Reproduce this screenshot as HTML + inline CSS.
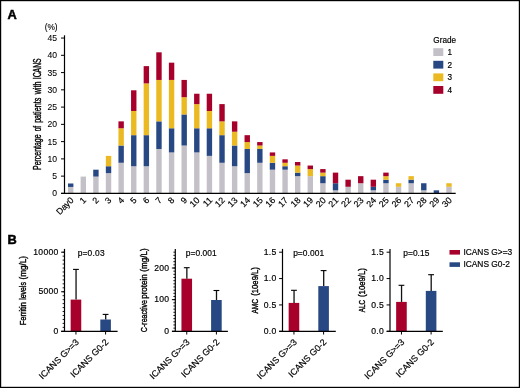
<!DOCTYPE html>
<html><head><meta charset="utf-8"><style>
html,body{margin:0;padding:0;background:#fff;}
body{width:520px;height:388px;overflow:hidden;}
svg{display:block;will-change:transform;filter:blur(0.3px);}
</style></head><body>
<svg width="520" height="388" viewBox="0 0 520 388">
<rect x="0" y="0" width="520" height="388" fill="#fff"/>
<line x1="61" y1="193.40" x2="64.5" y2="193.40" stroke="#000" stroke-width="1"/>
<text x="57" y="196.40" text-anchor="end" font-size="8.6" font-family="Liberation Sans, sans-serif" stroke="#000" stroke-width="0.08">0</text>
<line x1="61" y1="176.14" x2="64.5" y2="176.14" stroke="#000" stroke-width="1"/>
<text x="57" y="179.14" text-anchor="end" font-size="8.6" font-family="Liberation Sans, sans-serif" stroke="#000" stroke-width="0.08">5</text>
<line x1="61" y1="158.88" x2="64.5" y2="158.88" stroke="#000" stroke-width="1"/>
<text x="57" y="161.88" text-anchor="end" font-size="8.6" font-family="Liberation Sans, sans-serif" stroke="#000" stroke-width="0.08">10</text>
<line x1="61" y1="141.62" x2="64.5" y2="141.62" stroke="#000" stroke-width="1"/>
<text x="57" y="144.62" text-anchor="end" font-size="8.6" font-family="Liberation Sans, sans-serif" stroke="#000" stroke-width="0.08">15</text>
<line x1="61" y1="124.36" x2="64.5" y2="124.36" stroke="#000" stroke-width="1"/>
<text x="57" y="127.36" text-anchor="end" font-size="8.6" font-family="Liberation Sans, sans-serif" stroke="#000" stroke-width="0.08">20</text>
<line x1="61" y1="107.10" x2="64.5" y2="107.10" stroke="#000" stroke-width="1"/>
<text x="57" y="110.10" text-anchor="end" font-size="8.6" font-family="Liberation Sans, sans-serif" stroke="#000" stroke-width="0.08">25</text>
<line x1="61" y1="89.84" x2="64.5" y2="89.84" stroke="#000" stroke-width="1"/>
<text x="57" y="92.84" text-anchor="end" font-size="8.6" font-family="Liberation Sans, sans-serif" stroke="#000" stroke-width="0.08">30</text>
<line x1="61" y1="72.58" x2="64.5" y2="72.58" stroke="#000" stroke-width="1"/>
<text x="57" y="75.58" text-anchor="end" font-size="8.6" font-family="Liberation Sans, sans-serif" stroke="#000" stroke-width="0.08">35</text>
<line x1="61" y1="55.32" x2="64.5" y2="55.32" stroke="#000" stroke-width="1"/>
<text x="57" y="58.32" text-anchor="end" font-size="8.6" font-family="Liberation Sans, sans-serif" stroke="#000" stroke-width="0.08">40</text>
<line x1="61" y1="38.06" x2="64.5" y2="38.06" stroke="#000" stroke-width="1"/>
<text x="57" y="41.06" text-anchor="end" font-size="8.6" font-family="Liberation Sans, sans-serif" stroke="#000" stroke-width="0.08">45</text>
<text x="51.1" y="29.6" text-anchor="middle" font-size="8.3" font-family="Liberation Sans, sans-serif" stroke="#000" stroke-width="0.12">(%)</text>
<text transform="translate(41.3,169.96) rotate(-90)" font-size="10.4" textLength="35.57" lengthAdjust="spacingAndGlyphs" font-family="Liberation Sans, sans-serif" stroke="#000" stroke-width="0.38">Percentage</text>
<text transform="translate(41.3,131.26) rotate(-90)" font-size="10.4" textLength="5.45" lengthAdjust="spacingAndGlyphs" font-family="Liberation Sans, sans-serif" stroke="#000" stroke-width="0.38">of</text>
<text transform="translate(41.3,122.87) rotate(-90)" font-size="10.4" textLength="25.10" lengthAdjust="spacingAndGlyphs" font-family="Liberation Sans, sans-serif" stroke="#000" stroke-width="0.38">patients</text>
<text transform="translate(41.3,94.30) rotate(-90)" font-size="10.4" textLength="12.69" lengthAdjust="spacingAndGlyphs" font-family="Liberation Sans, sans-serif" stroke="#000" stroke-width="0.38">with</text>
<text transform="translate(41.3,79.21) rotate(-90)" font-size="10.4" textLength="20.83" lengthAdjust="spacingAndGlyphs" font-family="Liberation Sans, sans-serif" stroke="#000" stroke-width="0.38">ICANS</text>
<rect x="68.00" y="186.95" width="5.4" height="6.90" fill="#c3c1c7"/>
<rect x="68.00" y="183.49" width="5.4" height="3.45" fill="#284884"/>
<text transform="translate(74.20,200.8) rotate(-45)" text-anchor="end" font-size="8.8" font-family="Liberation Sans, sans-serif" stroke="#000" stroke-width="0.18">Day0</text>
<rect x="80.61" y="176.59" width="5.4" height="17.26" fill="#c3c1c7"/>
<text transform="translate(86.81,200.8) rotate(-45)" text-anchor="end" font-size="8.8" font-family="Liberation Sans, sans-serif" stroke="#000" stroke-width="0.18">1</text>
<rect x="93.22" y="176.59" width="5.4" height="17.26" fill="#c3c1c7"/>
<rect x="93.22" y="169.69" width="5.4" height="6.90" fill="#284884"/>
<text transform="translate(99.42,200.8) rotate(-45)" text-anchor="end" font-size="8.8" font-family="Liberation Sans, sans-serif" stroke="#000" stroke-width="0.18">2</text>
<rect x="105.83" y="173.14" width="5.4" height="20.71" fill="#c3c1c7"/>
<rect x="105.83" y="166.23" width="5.4" height="6.90" fill="#284884"/>
<rect x="105.83" y="155.88" width="5.4" height="10.36" fill="#ebb922"/>
<text transform="translate(112.03,200.8) rotate(-45)" text-anchor="end" font-size="8.8" font-family="Liberation Sans, sans-serif" stroke="#000" stroke-width="0.18">3</text>
<rect x="118.44" y="162.78" width="5.4" height="31.07" fill="#c3c1c7"/>
<rect x="118.44" y="145.52" width="5.4" height="17.26" fill="#284884"/>
<rect x="118.44" y="128.26" width="5.4" height="17.26" fill="#ebb922"/>
<rect x="118.44" y="121.36" width="5.4" height="6.90" fill="#a6002b"/>
<text transform="translate(124.64,200.8) rotate(-45)" text-anchor="end" font-size="8.8" font-family="Liberation Sans, sans-serif" stroke="#000" stroke-width="0.18">4</text>
<rect x="131.05" y="166.23" width="5.4" height="27.62" fill="#c3c1c7"/>
<rect x="131.05" y="135.17" width="5.4" height="31.07" fill="#284884"/>
<rect x="131.05" y="111.00" width="5.4" height="24.16" fill="#ebb922"/>
<rect x="131.05" y="90.29" width="5.4" height="20.71" fill="#a6002b"/>
<text transform="translate(137.25,200.8) rotate(-45)" text-anchor="end" font-size="8.8" font-family="Liberation Sans, sans-serif" stroke="#000" stroke-width="0.18">5</text>
<rect x="143.66" y="166.23" width="5.4" height="27.62" fill="#c3c1c7"/>
<rect x="143.66" y="135.17" width="5.4" height="31.07" fill="#284884"/>
<rect x="143.66" y="83.39" width="5.4" height="51.78" fill="#ebb922"/>
<rect x="143.66" y="66.13" width="5.4" height="17.26" fill="#a6002b"/>
<text transform="translate(149.86,200.8) rotate(-45)" text-anchor="end" font-size="8.8" font-family="Liberation Sans, sans-serif" stroke="#000" stroke-width="0.18">6</text>
<rect x="156.27" y="148.97" width="5.4" height="44.88" fill="#c3c1c7"/>
<rect x="156.27" y="121.36" width="5.4" height="27.62" fill="#284884"/>
<rect x="156.27" y="79.93" width="5.4" height="41.42" fill="#ebb922"/>
<rect x="156.27" y="52.32" width="5.4" height="27.62" fill="#a6002b"/>
<text transform="translate(162.47,200.8) rotate(-45)" text-anchor="end" font-size="8.8" font-family="Liberation Sans, sans-serif" stroke="#000" stroke-width="0.18">7</text>
<rect x="168.88" y="152.43" width="5.4" height="41.42" fill="#c3c1c7"/>
<rect x="168.88" y="128.26" width="5.4" height="24.16" fill="#284884"/>
<rect x="168.88" y="79.93" width="5.4" height="48.33" fill="#ebb922"/>
<rect x="168.88" y="62.67" width="5.4" height="17.26" fill="#a6002b"/>
<text transform="translate(175.08,200.8) rotate(-45)" text-anchor="end" font-size="8.8" font-family="Liberation Sans, sans-serif" stroke="#000" stroke-width="0.18">8</text>
<rect x="181.49" y="145.52" width="5.4" height="48.33" fill="#c3c1c7"/>
<rect x="181.49" y="114.45" width="5.4" height="31.07" fill="#284884"/>
<rect x="181.49" y="97.19" width="5.4" height="17.26" fill="#ebb922"/>
<rect x="181.49" y="79.93" width="5.4" height="17.26" fill="#a6002b"/>
<text transform="translate(187.69,200.8) rotate(-45)" text-anchor="end" font-size="8.8" font-family="Liberation Sans, sans-serif" stroke="#000" stroke-width="0.18">9</text>
<rect x="194.10" y="152.43" width="5.4" height="41.42" fill="#c3c1c7"/>
<rect x="194.10" y="128.26" width="5.4" height="24.16" fill="#284884"/>
<rect x="194.10" y="104.10" width="5.4" height="24.16" fill="#ebb922"/>
<rect x="194.10" y="93.74" width="5.4" height="10.36" fill="#a6002b"/>
<text transform="translate(200.30,200.8) rotate(-45)" text-anchor="end" font-size="8.8" font-family="Liberation Sans, sans-serif" stroke="#000" stroke-width="0.18">10</text>
<rect x="206.71" y="155.88" width="5.4" height="37.97" fill="#c3c1c7"/>
<rect x="206.71" y="128.26" width="5.4" height="27.62" fill="#284884"/>
<rect x="206.71" y="111.00" width="5.4" height="17.26" fill="#ebb922"/>
<rect x="206.71" y="93.74" width="5.4" height="17.26" fill="#a6002b"/>
<text transform="translate(212.91,200.8) rotate(-45)" text-anchor="end" font-size="8.8" font-family="Liberation Sans, sans-serif" stroke="#000" stroke-width="0.18">11</text>
<rect x="219.32" y="162.78" width="5.4" height="31.07" fill="#c3c1c7"/>
<rect x="219.32" y="135.17" width="5.4" height="27.62" fill="#284884"/>
<rect x="219.32" y="121.36" width="5.4" height="13.81" fill="#ebb922"/>
<rect x="219.32" y="104.10" width="5.4" height="17.26" fill="#a6002b"/>
<text transform="translate(225.52,200.8) rotate(-45)" text-anchor="end" font-size="8.8" font-family="Liberation Sans, sans-serif" stroke="#000" stroke-width="0.18">12</text>
<rect x="231.93" y="166.23" width="5.4" height="27.62" fill="#c3c1c7"/>
<rect x="231.93" y="145.52" width="5.4" height="20.71" fill="#284884"/>
<rect x="231.93" y="131.71" width="5.4" height="13.81" fill="#ebb922"/>
<rect x="231.93" y="121.36" width="5.4" height="10.36" fill="#a6002b"/>
<text transform="translate(238.13,200.8) rotate(-45)" text-anchor="end" font-size="8.8" font-family="Liberation Sans, sans-serif" stroke="#000" stroke-width="0.18">13</text>
<rect x="244.54" y="173.14" width="5.4" height="20.71" fill="#c3c1c7"/>
<rect x="244.54" y="148.97" width="5.4" height="24.16" fill="#284884"/>
<rect x="244.54" y="142.07" width="5.4" height="6.90" fill="#ebb922"/>
<rect x="244.54" y="135.17" width="5.4" height="6.90" fill="#a6002b"/>
<text transform="translate(250.74,200.8) rotate(-45)" text-anchor="end" font-size="8.8" font-family="Liberation Sans, sans-serif" stroke="#000" stroke-width="0.18">14</text>
<rect x="257.15" y="162.78" width="5.4" height="31.07" fill="#c3c1c7"/>
<rect x="257.15" y="148.97" width="5.4" height="13.81" fill="#284884"/>
<rect x="257.15" y="145.52" width="5.4" height="3.45" fill="#ebb922"/>
<rect x="257.15" y="142.07" width="5.4" height="3.45" fill="#a6002b"/>
<text transform="translate(263.35,200.8) rotate(-45)" text-anchor="end" font-size="8.8" font-family="Liberation Sans, sans-serif" stroke="#000" stroke-width="0.18">15</text>
<rect x="269.76" y="169.69" width="5.4" height="24.16" fill="#c3c1c7"/>
<rect x="269.76" y="162.78" width="5.4" height="6.90" fill="#284884"/>
<rect x="269.76" y="155.88" width="5.4" height="6.90" fill="#ebb922"/>
<rect x="269.76" y="152.43" width="5.4" height="3.45" fill="#a6002b"/>
<text transform="translate(275.96,200.8) rotate(-45)" text-anchor="end" font-size="8.8" font-family="Liberation Sans, sans-serif" stroke="#000" stroke-width="0.18">16</text>
<rect x="282.37" y="169.69" width="5.4" height="24.16" fill="#c3c1c7"/>
<rect x="282.37" y="166.23" width="5.4" height="3.45" fill="#284884"/>
<rect x="282.37" y="162.78" width="5.4" height="3.45" fill="#ebb922"/>
<rect x="282.37" y="159.33" width="5.4" height="3.45" fill="#a6002b"/>
<text transform="translate(288.57,200.8) rotate(-45)" text-anchor="end" font-size="8.8" font-family="Liberation Sans, sans-serif" stroke="#000" stroke-width="0.18">17</text>
<rect x="294.98" y="176.16" width="5.4" height="17.69" fill="#c3c1c7"/>
<rect x="294.98" y="172.62" width="5.4" height="3.54" fill="#284884"/>
<rect x="294.98" y="165.54" width="5.4" height="7.08" fill="#ebb922"/>
<rect x="294.98" y="162.01" width="5.4" height="3.54" fill="#a6002b"/>
<text transform="translate(301.18,200.8) rotate(-45)" text-anchor="end" font-size="8.8" font-family="Liberation Sans, sans-serif" stroke="#000" stroke-width="0.18">18</text>
<rect x="307.59" y="176.16" width="5.4" height="17.69" fill="#c3c1c7"/>
<rect x="307.59" y="169.08" width="5.4" height="7.08" fill="#ebb922"/>
<rect x="307.59" y="165.54" width="5.4" height="3.54" fill="#a6002b"/>
<text transform="translate(313.79,200.8) rotate(-45)" text-anchor="end" font-size="8.8" font-family="Liberation Sans, sans-serif" stroke="#000" stroke-width="0.18">19</text>
<rect x="320.20" y="183.24" width="5.4" height="10.61" fill="#c3c1c7"/>
<rect x="320.20" y="176.16" width="5.4" height="7.08" fill="#284884"/>
<rect x="320.20" y="172.62" width="5.4" height="3.54" fill="#ebb922"/>
<rect x="320.20" y="169.08" width="5.4" height="3.54" fill="#a6002b"/>
<text transform="translate(326.40,200.8) rotate(-45)" text-anchor="end" font-size="8.8" font-family="Liberation Sans, sans-serif" stroke="#000" stroke-width="0.18">20</text>
<rect x="332.81" y="190.31" width="5.4" height="3.54" fill="#c3c1c7"/>
<rect x="332.81" y="183.24" width="5.4" height="7.08" fill="#284884"/>
<rect x="332.81" y="172.62" width="5.4" height="10.61" fill="#a6002b"/>
<text transform="translate(339.01,200.8) rotate(-45)" text-anchor="end" font-size="8.8" font-family="Liberation Sans, sans-serif" stroke="#000" stroke-width="0.18">21</text>
<rect x="345.42" y="186.77" width="5.4" height="7.08" fill="#c3c1c7"/>
<rect x="345.42" y="179.70" width="5.4" height="7.08" fill="#a6002b"/>
<text transform="translate(351.62,200.8) rotate(-45)" text-anchor="end" font-size="8.8" font-family="Liberation Sans, sans-serif" stroke="#000" stroke-width="0.18">22</text>
<rect x="358.03" y="183.24" width="5.4" height="10.61" fill="#c3c1c7"/>
<rect x="358.03" y="176.16" width="5.4" height="7.08" fill="#a6002b"/>
<text transform="translate(364.23,200.8) rotate(-45)" text-anchor="end" font-size="8.8" font-family="Liberation Sans, sans-serif" stroke="#000" stroke-width="0.18">23</text>
<rect x="370.64" y="190.31" width="5.4" height="3.54" fill="#c3c1c7"/>
<rect x="370.64" y="186.77" width="5.4" height="3.54" fill="#284884"/>
<rect x="370.64" y="179.70" width="5.4" height="7.08" fill="#a6002b"/>
<text transform="translate(376.84,200.8) rotate(-45)" text-anchor="end" font-size="8.8" font-family="Liberation Sans, sans-serif" stroke="#000" stroke-width="0.18">24</text>
<rect x="383.25" y="183.24" width="5.4" height="10.61" fill="#c3c1c7"/>
<rect x="383.25" y="179.70" width="5.4" height="3.54" fill="#284884"/>
<rect x="383.25" y="176.16" width="5.4" height="3.54" fill="#ebb922"/>
<rect x="383.25" y="172.62" width="5.4" height="3.54" fill="#a6002b"/>
<text transform="translate(389.45,200.8) rotate(-45)" text-anchor="end" font-size="8.8" font-family="Liberation Sans, sans-serif" stroke="#000" stroke-width="0.18">25</text>
<rect x="395.86" y="186.77" width="5.4" height="7.08" fill="#c3c1c7"/>
<rect x="395.86" y="183.24" width="5.4" height="3.54" fill="#ebb922"/>
<text transform="translate(402.06,200.8) rotate(-45)" text-anchor="end" font-size="8.8" font-family="Liberation Sans, sans-serif" stroke="#000" stroke-width="0.18">26</text>
<rect x="408.47" y="183.24" width="5.4" height="10.61" fill="#c3c1c7"/>
<rect x="408.47" y="179.70" width="5.4" height="3.54" fill="#284884"/>
<rect x="408.47" y="176.16" width="5.4" height="3.54" fill="#ebb922"/>
<text transform="translate(414.67,200.8) rotate(-45)" text-anchor="end" font-size="8.8" font-family="Liberation Sans, sans-serif" stroke="#000" stroke-width="0.18">27</text>
<rect x="421.08" y="190.31" width="5.4" height="3.54" fill="#c3c1c7"/>
<rect x="421.08" y="183.24" width="5.4" height="7.08" fill="#284884"/>
<text transform="translate(427.28,200.8) rotate(-45)" text-anchor="end" font-size="8.8" font-family="Liberation Sans, sans-serif" stroke="#000" stroke-width="0.18">28</text>
<rect x="433.69" y="190.31" width="5.4" height="3.54" fill="#284884"/>
<text transform="translate(439.89,200.8) rotate(-45)" text-anchor="end" font-size="8.8" font-family="Liberation Sans, sans-serif" stroke="#000" stroke-width="0.18">29</text>
<rect x="446.30" y="186.77" width="5.4" height="7.08" fill="#c3c1c7"/>
<rect x="446.30" y="183.24" width="5.4" height="3.54" fill="#ebb922"/>
<text transform="translate(452.50,200.8) rotate(-45)" text-anchor="end" font-size="8.8" font-family="Liberation Sans, sans-serif" stroke="#000" stroke-width="0.18">30</text>
<text x="433.3" y="42.9" font-size="8.2" font-family="Liberation Sans, sans-serif" stroke="#000" stroke-width="0.18">Grade</text>
<rect x="433.3" y="48.20" width="10" height="7.8" fill="#c3c1c7"/>
<text x="447.5" y="55.00" font-size="8.2" font-family="Liberation Sans, sans-serif" stroke="#000" stroke-width="0.18">1</text>
<rect x="433.3" y="60.80" width="10" height="7.8" fill="#284884"/>
<text x="447.5" y="67.60" font-size="8.2" font-family="Liberation Sans, sans-serif" stroke="#000" stroke-width="0.18">2</text>
<rect x="433.3" y="73.40" width="10" height="7.8" fill="#ebb922"/>
<text x="447.5" y="80.20" font-size="8.2" font-family="Liberation Sans, sans-serif" stroke="#000" stroke-width="0.18">3</text>
<rect x="433.3" y="86.00" width="10" height="7.8" fill="#a6002b"/>
<text x="447.5" y="92.80" font-size="8.2" font-family="Liberation Sans, sans-serif" stroke="#000" stroke-width="0.18">4</text>
<text x="7.5" y="18.7" font-size="12.8" font-weight="bold" font-family="Liberation Sans, sans-serif" stroke="#000" stroke-width="0.5">A</text>
<text x="7.6" y="243.5" font-size="12.8" font-weight="bold" font-family="Liberation Sans, sans-serif" stroke="#000" stroke-width="0.5">B</text>
<line x1="62.60" y1="327.35" x2="64.5" y2="327.35" stroke="#000" stroke-width="0.9"/>
<line x1="62.60" y1="323.39" x2="64.5" y2="323.39" stroke="#000" stroke-width="0.9"/>
<line x1="62.60" y1="319.44" x2="64.5" y2="319.44" stroke="#000" stroke-width="0.9"/>
<line x1="62.60" y1="315.48" x2="64.5" y2="315.48" stroke="#000" stroke-width="0.9"/>
<line x1="62.60" y1="311.52" x2="64.5" y2="311.52" stroke="#000" stroke-width="0.9"/>
<line x1="62.60" y1="307.57" x2="64.5" y2="307.57" stroke="#000" stroke-width="0.9"/>
<line x1="62.60" y1="303.62" x2="64.5" y2="303.62" stroke="#000" stroke-width="0.9"/>
<line x1="62.60" y1="299.66" x2="64.5" y2="299.66" stroke="#000" stroke-width="0.9"/>
<line x1="62.60" y1="295.70" x2="64.5" y2="295.70" stroke="#000" stroke-width="0.9"/>
<line x1="62.60" y1="291.75" x2="64.5" y2="291.75" stroke="#000" stroke-width="0.9"/>
<line x1="62.60" y1="287.80" x2="64.5" y2="287.80" stroke="#000" stroke-width="0.9"/>
<line x1="62.60" y1="283.84" x2="64.5" y2="283.84" stroke="#000" stroke-width="0.9"/>
<line x1="62.60" y1="279.88" x2="64.5" y2="279.88" stroke="#000" stroke-width="0.9"/>
<line x1="62.60" y1="275.93" x2="64.5" y2="275.93" stroke="#000" stroke-width="0.9"/>
<line x1="62.60" y1="271.98" x2="64.5" y2="271.98" stroke="#000" stroke-width="0.9"/>
<line x1="62.60" y1="268.02" x2="64.5" y2="268.02" stroke="#000" stroke-width="0.9"/>
<line x1="62.60" y1="264.06" x2="64.5" y2="264.06" stroke="#000" stroke-width="0.9"/>
<line x1="62.60" y1="260.11" x2="64.5" y2="260.11" stroke="#000" stroke-width="0.9"/>
<line x1="62.60" y1="256.15" x2="64.5" y2="256.15" stroke="#000" stroke-width="0.9"/>
<line x1="62.60" y1="252.20" x2="64.5" y2="252.20" stroke="#000" stroke-width="0.9"/>
<line x1="61.10" y1="331.30" x2="64.5" y2="331.30" stroke="#000" stroke-width="1"/>
<text x="58.50" y="333.95" text-anchor="end" font-size="8.6" letter-spacing="0.25" font-family="Liberation Sans, sans-serif" stroke="#000" stroke-width="0.18">0</text>
<line x1="61.10" y1="291.75" x2="64.5" y2="291.75" stroke="#000" stroke-width="1"/>
<text x="58.50" y="294.40" text-anchor="end" font-size="8.6" letter-spacing="0.25" font-family="Liberation Sans, sans-serif" stroke="#000" stroke-width="0.18">5000</text>
<line x1="61.10" y1="252.20" x2="64.5" y2="252.20" stroke="#000" stroke-width="1"/>
<text x="58.50" y="254.85" text-anchor="end" font-size="8.6" letter-spacing="0.25" font-family="Liberation Sans, sans-serif" stroke="#000" stroke-width="0.18">10000</text>
<rect x="70.65" y="299.60" width="10.6" height="31.70" fill="#a6002b"/>
<line x1="76.05" y1="269.40" x2="76.05" y2="299.60" stroke="#111" stroke-width="1.3"/>
<line x1="73.05" y1="269.40" x2="78.85" y2="269.40" stroke="#000" stroke-width="1.1"/>
<line x1="75.95" y1="331.3" x2="75.95" y2="334.5" stroke="#000" stroke-width="1"/>
<text transform="translate(79.45,342.8) rotate(-45)" text-anchor="end" font-size="8.95" font-family="Liberation Sans, sans-serif" stroke="#000" stroke-width="0.18">ICANS G&gt;=3</text>
<rect x="100.30" y="319.50" width="10.6" height="11.80" fill="#284884"/>
<line x1="105.70" y1="314.40" x2="105.70" y2="319.50" stroke="#111" stroke-width="1.3"/>
<line x1="102.70" y1="314.40" x2="108.50" y2="314.40" stroke="#000" stroke-width="1.1"/>
<line x1="105.60" y1="331.3" x2="105.60" y2="334.5" stroke="#000" stroke-width="1"/>
<text transform="translate(109.10,342.8) rotate(-45)" text-anchor="end" font-size="8.95" font-family="Liberation Sans, sans-serif" stroke="#000" stroke-width="0.18">ICANS G0-2</text>
<text x="91.1" y="256.0" text-anchor="middle" font-size="8.4" textLength="26.9" lengthAdjust="spacing" font-family="Liberation Sans, sans-serif" stroke="#000" stroke-width="0.18">p=0.03</text>
<text transform="translate(25.6,325.19) rotate(-90)" font-size="9.7" textLength="23.09" lengthAdjust="spacingAndGlyphs" font-family="Liberation Sans, sans-serif" stroke="#000" stroke-width="0.38">Ferritin</text>
<text transform="translate(25.6,299.85) rotate(-90)" font-size="9.7" textLength="17.70" lengthAdjust="spacingAndGlyphs" font-family="Liberation Sans, sans-serif" stroke="#000" stroke-width="0.38">levels</text>
<text transform="translate(25.6,279.49) rotate(-90)" font-size="9.7" textLength="23.51" lengthAdjust="spacingAndGlyphs" font-family="Liberation Sans, sans-serif" stroke="#000" stroke-width="0.38">(mg/L)</text>
<line x1="173.40" y1="328.13" x2="175.3" y2="328.13" stroke="#000" stroke-width="0.9"/>
<line x1="173.40" y1="324.97" x2="175.3" y2="324.97" stroke="#000" stroke-width="0.9"/>
<line x1="173.40" y1="321.81" x2="175.3" y2="321.81" stroke="#000" stroke-width="0.9"/>
<line x1="173.40" y1="318.64" x2="175.3" y2="318.64" stroke="#000" stroke-width="0.9"/>
<line x1="173.40" y1="315.48" x2="175.3" y2="315.48" stroke="#000" stroke-width="0.9"/>
<line x1="173.40" y1="312.31" x2="175.3" y2="312.31" stroke="#000" stroke-width="0.9"/>
<line x1="173.40" y1="309.14" x2="175.3" y2="309.14" stroke="#000" stroke-width="0.9"/>
<line x1="173.40" y1="305.98" x2="175.3" y2="305.98" stroke="#000" stroke-width="0.9"/>
<line x1="173.40" y1="302.81" x2="175.3" y2="302.81" stroke="#000" stroke-width="0.9"/>
<line x1="173.40" y1="299.65" x2="175.3" y2="299.65" stroke="#000" stroke-width="0.9"/>
<line x1="173.40" y1="296.49" x2="175.3" y2="296.49" stroke="#000" stroke-width="0.9"/>
<line x1="173.40" y1="293.32" x2="175.3" y2="293.32" stroke="#000" stroke-width="0.9"/>
<line x1="173.40" y1="290.16" x2="175.3" y2="290.16" stroke="#000" stroke-width="0.9"/>
<line x1="173.40" y1="286.99" x2="175.3" y2="286.99" stroke="#000" stroke-width="0.9"/>
<line x1="173.40" y1="283.82" x2="175.3" y2="283.82" stroke="#000" stroke-width="0.9"/>
<line x1="173.40" y1="280.66" x2="175.3" y2="280.66" stroke="#000" stroke-width="0.9"/>
<line x1="173.40" y1="277.50" x2="175.3" y2="277.50" stroke="#000" stroke-width="0.9"/>
<line x1="173.40" y1="274.33" x2="175.3" y2="274.33" stroke="#000" stroke-width="0.9"/>
<line x1="173.40" y1="271.17" x2="175.3" y2="271.17" stroke="#000" stroke-width="0.9"/>
<line x1="173.40" y1="268.00" x2="175.3" y2="268.00" stroke="#000" stroke-width="0.9"/>
<line x1="173.40" y1="264.84" x2="175.3" y2="264.84" stroke="#000" stroke-width="0.9"/>
<line x1="173.40" y1="261.67" x2="175.3" y2="261.67" stroke="#000" stroke-width="0.9"/>
<line x1="173.40" y1="258.50" x2="175.3" y2="258.50" stroke="#000" stroke-width="0.9"/>
<line x1="173.40" y1="255.34" x2="175.3" y2="255.34" stroke="#000" stroke-width="0.9"/>
<line x1="173.40" y1="252.18" x2="175.3" y2="252.18" stroke="#000" stroke-width="0.9"/>
<line x1="171.90" y1="331.30" x2="175.3" y2="331.30" stroke="#000" stroke-width="1"/>
<text x="169.30" y="333.95" text-anchor="end" font-size="8.6" letter-spacing="0.25" font-family="Liberation Sans, sans-serif" stroke="#000" stroke-width="0.18">0</text>
<line x1="171.90" y1="299.65" x2="175.3" y2="299.65" stroke="#000" stroke-width="1"/>
<text x="169.30" y="302.30" text-anchor="end" font-size="8.6" letter-spacing="0.25" font-family="Liberation Sans, sans-serif" stroke="#000" stroke-width="0.18">100</text>
<line x1="171.90" y1="268.00" x2="175.3" y2="268.00" stroke="#000" stroke-width="1"/>
<text x="169.30" y="270.65" text-anchor="end" font-size="8.6" letter-spacing="0.25" font-family="Liberation Sans, sans-serif" stroke="#000" stroke-width="0.18">200</text>
<rect x="181.45" y="278.70" width="10.6" height="52.60" fill="#a6002b"/>
<line x1="186.85" y1="267.70" x2="186.85" y2="278.70" stroke="#111" stroke-width="1.3"/>
<line x1="183.85" y1="267.70" x2="189.65" y2="267.70" stroke="#000" stroke-width="1.1"/>
<line x1="186.75" y1="331.3" x2="186.75" y2="334.5" stroke="#000" stroke-width="1"/>
<text transform="translate(190.25,342.8) rotate(-45)" text-anchor="end" font-size="8.95" font-family="Liberation Sans, sans-serif" stroke="#000" stroke-width="0.18">ICANS G&gt;=3</text>
<rect x="211.10" y="300.00" width="10.6" height="31.30" fill="#284884"/>
<line x1="216.50" y1="290.50" x2="216.50" y2="300.00" stroke="#111" stroke-width="1.3"/>
<line x1="213.50" y1="290.50" x2="219.30" y2="290.50" stroke="#000" stroke-width="1.1"/>
<line x1="216.40" y1="331.3" x2="216.40" y2="334.5" stroke="#000" stroke-width="1"/>
<text transform="translate(219.90,342.8) rotate(-45)" text-anchor="end" font-size="8.95" font-family="Liberation Sans, sans-serif" stroke="#000" stroke-width="0.18">ICANS G0-2</text>
<text x="201.2" y="256.0" text-anchor="middle" font-size="8.4" textLength="30.9" lengthAdjust="spacing" font-family="Liberation Sans, sans-serif" stroke="#000" stroke-width="0.18">p=0.001</text>
<text transform="translate(147.0,332.15) rotate(-90)" font-size="9.7" textLength="32.18" lengthAdjust="spacingAndGlyphs" font-family="Liberation Sans, sans-serif" stroke="#000" stroke-width="0.38">C-reactive</text>
<text transform="translate(147.0,298.82) rotate(-90)" font-size="9.7" textLength="24.57" lengthAdjust="spacingAndGlyphs" font-family="Liberation Sans, sans-serif" stroke="#000" stroke-width="0.38">protein</text>
<text transform="translate(147.0,271.68) rotate(-90)" font-size="9.7" textLength="23.30" lengthAdjust="spacingAndGlyphs" font-family="Liberation Sans, sans-serif" stroke="#000" stroke-width="0.38">(mg/L)</text>
<line x1="279.10" y1="331.30" x2="282.5" y2="331.30" stroke="#000" stroke-width="1"/>
<text x="276.50" y="333.95" text-anchor="end" font-size="8.6" letter-spacing="0.25" font-family="Liberation Sans, sans-serif" stroke="#000" stroke-width="0.18">0.0</text>
<line x1="279.10" y1="304.93" x2="282.5" y2="304.93" stroke="#000" stroke-width="1"/>
<text x="276.50" y="307.58" text-anchor="end" font-size="8.6" letter-spacing="0.25" font-family="Liberation Sans, sans-serif" stroke="#000" stroke-width="0.18">0.5</text>
<line x1="279.10" y1="278.57" x2="282.5" y2="278.57" stroke="#000" stroke-width="1"/>
<text x="276.50" y="281.22" text-anchor="end" font-size="8.6" letter-spacing="0.25" font-family="Liberation Sans, sans-serif" stroke="#000" stroke-width="0.18">1.0</text>
<line x1="279.10" y1="252.20" x2="282.5" y2="252.20" stroke="#000" stroke-width="1"/>
<text x="276.50" y="254.85" text-anchor="end" font-size="8.6" letter-spacing="0.25" font-family="Liberation Sans, sans-serif" stroke="#000" stroke-width="0.18">1.5</text>
<rect x="288.65" y="302.90" width="10.6" height="28.40" fill="#a6002b"/>
<line x1="294.05" y1="290.30" x2="294.05" y2="302.90" stroke="#111" stroke-width="1.3"/>
<line x1="291.05" y1="290.30" x2="296.85" y2="290.30" stroke="#000" stroke-width="1.1"/>
<line x1="293.95" y1="331.3" x2="293.95" y2="334.5" stroke="#000" stroke-width="1"/>
<text transform="translate(297.45,342.8) rotate(-45)" text-anchor="end" font-size="8.95" font-family="Liberation Sans, sans-serif" stroke="#000" stroke-width="0.18">ICANS G&gt;=3</text>
<rect x="318.30" y="286.10" width="10.6" height="45.20" fill="#284884"/>
<line x1="323.70" y1="270.60" x2="323.70" y2="286.10" stroke="#111" stroke-width="1.3"/>
<line x1="320.70" y1="270.60" x2="326.50" y2="270.60" stroke="#000" stroke-width="1.1"/>
<line x1="323.60" y1="331.3" x2="323.60" y2="334.5" stroke="#000" stroke-width="1"/>
<text transform="translate(327.10,342.8) rotate(-45)" text-anchor="end" font-size="8.95" font-family="Liberation Sans, sans-serif" stroke="#000" stroke-width="0.18">ICANS G0-2</text>
<text x="308.6" y="256.0" text-anchor="middle" font-size="8.4" textLength="30.9" lengthAdjust="spacing" font-family="Liberation Sans, sans-serif" stroke="#000" stroke-width="0.18">p=0.001</text>
<text transform="translate(257.8,313.60) rotate(-90)" font-size="9.7" textLength="14.75" lengthAdjust="spacingAndGlyphs" font-family="Liberation Sans, sans-serif" stroke="#000" stroke-width="0.38">AMC</text>
<text transform="translate(257.8,295.76) rotate(-90)" font-size="9.7" textLength="28.66" lengthAdjust="spacingAndGlyphs" font-family="Liberation Sans, sans-serif" stroke="#000" stroke-width="0.38">(10e9/L)</text>
<line x1="386.60" y1="331.30" x2="390.0" y2="331.30" stroke="#000" stroke-width="1"/>
<text x="384.00" y="333.95" text-anchor="end" font-size="8.6" letter-spacing="0.25" font-family="Liberation Sans, sans-serif" stroke="#000" stroke-width="0.18">0.0</text>
<line x1="386.60" y1="304.93" x2="390.0" y2="304.93" stroke="#000" stroke-width="1"/>
<text x="384.00" y="307.58" text-anchor="end" font-size="8.6" letter-spacing="0.25" font-family="Liberation Sans, sans-serif" stroke="#000" stroke-width="0.18">0.5</text>
<line x1="386.60" y1="278.57" x2="390.0" y2="278.57" stroke="#000" stroke-width="1"/>
<text x="384.00" y="281.22" text-anchor="end" font-size="8.6" letter-spacing="0.25" font-family="Liberation Sans, sans-serif" stroke="#000" stroke-width="0.18">1.0</text>
<line x1="386.60" y1="252.20" x2="390.0" y2="252.20" stroke="#000" stroke-width="1"/>
<text x="384.00" y="254.85" text-anchor="end" font-size="8.6" letter-spacing="0.25" font-family="Liberation Sans, sans-serif" stroke="#000" stroke-width="0.18">1.5</text>
<rect x="396.15" y="301.90" width="10.6" height="29.40" fill="#a6002b"/>
<line x1="401.55" y1="285.30" x2="401.55" y2="301.90" stroke="#111" stroke-width="1.3"/>
<line x1="398.55" y1="285.30" x2="404.35" y2="285.30" stroke="#000" stroke-width="1.1"/>
<line x1="401.45" y1="331.3" x2="401.45" y2="334.5" stroke="#000" stroke-width="1"/>
<text transform="translate(404.95,342.8) rotate(-45)" text-anchor="end" font-size="8.95" font-family="Liberation Sans, sans-serif" stroke="#000" stroke-width="0.18">ICANS G&gt;=3</text>
<rect x="425.80" y="290.90" width="10.6" height="40.40" fill="#284884"/>
<line x1="431.20" y1="274.70" x2="431.20" y2="290.90" stroke="#111" stroke-width="1.3"/>
<line x1="428.20" y1="274.70" x2="434.00" y2="274.70" stroke="#000" stroke-width="1.1"/>
<line x1="431.10" y1="331.3" x2="431.10" y2="334.5" stroke="#000" stroke-width="1"/>
<text transform="translate(434.60,342.8) rotate(-45)" text-anchor="end" font-size="8.95" font-family="Liberation Sans, sans-serif" stroke="#000" stroke-width="0.18">ICANS G0-2</text>
<text x="416.3" y="256.0" text-anchor="middle" font-size="8.4" textLength="26.1" lengthAdjust="spacing" font-family="Liberation Sans, sans-serif" stroke="#000" stroke-width="0.18">p=0.15</text>
<text transform="translate(364.6,312.30) rotate(-90)" font-size="9.7" textLength="12.22" lengthAdjust="spacingAndGlyphs" font-family="Liberation Sans, sans-serif" stroke="#000" stroke-width="0.38">ALC</text>
<text transform="translate(364.6,296.96) rotate(-90)" font-size="9.7" textLength="28.76" lengthAdjust="spacingAndGlyphs" font-family="Liberation Sans, sans-serif" stroke="#000" stroke-width="0.38">(10e9/L)</text>
<rect x="449.5" y="250" width="10.5" height="4.6" fill="#a6002b"/>
<text x="463.4" y="254.9" font-size="8.4" font-family="Liberation Sans, sans-serif" stroke="#000" stroke-width="0.18">ICANS G&gt;=3</text>
<rect x="449.5" y="262.3" width="10.5" height="4.6" fill="#284884"/>
<text x="463.4" y="267.2" font-size="8.4" font-family="Liberation Sans, sans-serif" stroke="#000" stroke-width="0.18">ICANS G0-2</text>
<line x1="64.5" y1="35.3" x2="64.5" y2="194.0" stroke="#000" stroke-width="1.2"/>
<line x1="61" y1="193.4" x2="455.7" y2="193.4" stroke="#000" stroke-width="1.2"/>
<line x1="64.5" y1="248.9" x2="64.5" y2="331.90000000000003" stroke="#000" stroke-width="1.2"/>
<line x1="61.20" y1="331.3" x2="117.6" y2="331.3" stroke="#000" stroke-width="1.2"/>
<line x1="175.3" y1="248.9" x2="175.3" y2="331.90000000000003" stroke="#000" stroke-width="1.2"/>
<line x1="172.00" y1="331.3" x2="227.9" y2="331.3" stroke="#000" stroke-width="1.2"/>
<line x1="282.5" y1="248.9" x2="282.5" y2="331.90000000000003" stroke="#000" stroke-width="1.2"/>
<line x1="279.20" y1="331.3" x2="335.8" y2="331.3" stroke="#000" stroke-width="1.2"/>
<line x1="390.0" y1="248.9" x2="390.0" y2="331.90000000000003" stroke="#000" stroke-width="1.2"/>
<line x1="386.70" y1="331.3" x2="442.8" y2="331.3" stroke="#000" stroke-width="1.2"/>
<rect x="0.5" y="0.5" width="519" height="387" fill="none" stroke="#000" stroke-width="1.4"/>
</svg>
</body></html>
